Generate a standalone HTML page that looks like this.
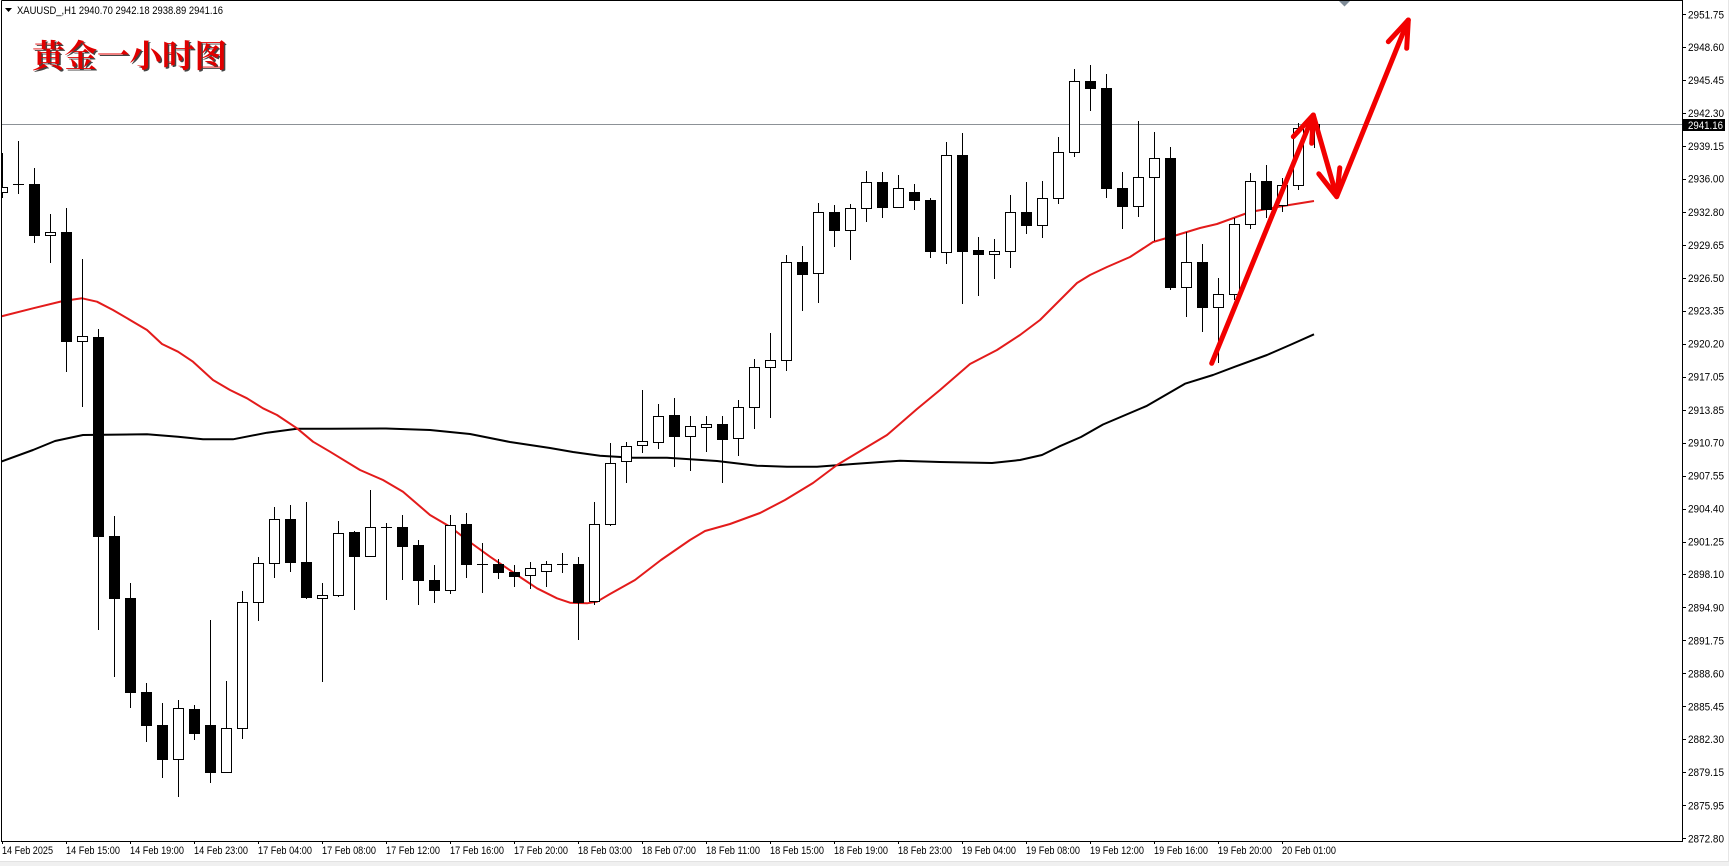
<!DOCTYPE html>
<html><head><meta charset="utf-8"><style>
html,body{margin:0;padding:0;background:#fff;}
svg{display:block;}
.ax{font-family:"Liberation Sans",sans-serif;font-size:11px;fill:#000;}
</style></head><body>
<svg width="1729" height="866" viewBox="0 0 1729 866" xmlns="http://www.w3.org/2000/svg">
<rect x="0" y="0" width="1729" height="866" fill="#fff"/>
<defs><clipPath id="cp"><rect x="2" y="1" width="1680" height="840"/></clipPath></defs>
<g clip-path="url(#cp)">
<!-- MAs -->
<polyline fill="none" stroke="#000" stroke-width="2" stroke-linejoin="round" points="0,462 33,450 55,441 83,435 147,434.3 178,436.7 203,439.3 233,439.3 267,432.7 297,428.7 330,428.7 386,428.5 430,430 470,434 510,442 550,448 573,452 600,455.7 633,457.7 667,457.7 717,461 757,465.7 787,466.7 817,466.7 853,464 900,460.7 940,462 992,463 1020,460 1042,455 1059,446.6 1081,437 1103,424.5 1147,405.8 1185,383.7 1213,375 1235,366.7 1267,355 1290,345 1314,334.3"/>
<polyline fill="none" stroke="#e31b1b" stroke-width="2" stroke-linejoin="round" points="0,316.7 33,308.3 63,301 82,298.3 97,301.7 113,310 133,321.7 147,330 162,344 178,351.7 193,361.7 213,380 230,390 247,398.3 263,408.3 277,415 297,428.3 313,441.7 330,451.7 360,470 383,480 403,491.7 430,515 450,526.7 467,540 490,556.7 517,575 537,588.3 557,598.3 570,602.7 587,603.3 597,601.7 610,594 635,580 661,560 690,540 705,531 730,524 760,513 785,500 813,483 837,465 867,447 887,435 917,409 940,390 970,364 997,350 1020,335 1040,320 1057,303 1077,283 1090,275 1107,267 1130,257 1153,242 1177,235 1200,228 1217,224 1250,212 1283,206 1314,201"/>
<!-- price line -->
<line x1="2" y1="124.5" x2="1682" y2="124.5" stroke="#8c9196" stroke-width="1"/>
<!-- wicks -->
<path fill="none" stroke="#000" stroke-width="1" d="M2.5 153V198M18.5 141V194M34.5 168V243M50.5 214V263M66.5 208V372M82.5 259V407M98.5 329V630M114.5 516V677M130.5 583V708M146.5 683V742M162.5 703V778M178.5 700V797M194.5 705V740M210.5 620V783M226.5 681V773M242.5 591V739M258.5 557V621M274.5 507V578M290.5 505V572M306.5 502V599M322.5 583V682M338.5 521V597M354.5 531V610M370.5 490V557M386.5 523V600M402.5 515V580M418.5 540V605M434.5 565V603M450.5 515V594M466.5 513V578M482.5 543V593M498.5 559V579M514.5 565V587M530.5 562V589M546.5 561V587M562.5 553V573M578.5 557V640M594.5 502V605M610.5 443V526M626.5 442V483M642.5 390V453M658.5 404V449M674.5 398V467M690.5 416V471M706.5 416V452M722.5 416V483M738.5 400V456M754.5 359V429M770.5 333V418M786.5 255V371M802.5 246V311M818.5 203V303M834.5 205V247M850.5 204V260M866.5 171V222M882.5 172V218M898.5 175V208M914.5 184V210M930.5 198V258M946.5 142V264M962.5 133V304M978.5 237V296M994.5 239V279M1010.5 195V268M1026.5 182V234M1042.5 181V238M1058.5 137V204M1074.5 69V157M1090.5 65V111M1106.5 74V198M1122.5 172V229M1138.5 121V217M1154.5 132V241M1170.5 147V290M1186.5 232V317M1202.5 244V332M1218.5 278V363M1234.5 218V300M1250.5 173V229M1266.5 165V218M1282.5 178V212M1298.5 123V190M1314.5 114V148"/>
<!-- doji -->
<path fill="none" stroke="#000" stroke-width="1" d="M13 184.5H24M381 527.5H392M477 564.5H488M557 564.5H568"/>
<!-- black bodies -->
<g fill="#000" stroke="#000" stroke-width="1">
<rect x="29.5" y="184.5" width="10" height="51"/>
<rect x="61.5" y="232.5" width="10" height="109"/>
<rect x="93.5" y="337.5" width="10" height="199"/>
<rect x="109.5" y="536.5" width="10" height="62"/>
<rect x="125.5" y="598.5" width="10" height="94"/>
<rect x="141.5" y="692.5" width="10" height="33"/>
<rect x="157.5" y="725.5" width="10" height="34"/>
<rect x="189.5" y="709.5" width="10" height="24"/>
<rect x="205.5" y="725.5" width="10" height="47"/>
<rect x="285.5" y="519.5" width="10" height="43"/>
<rect x="301.5" y="562.5" width="10" height="35"/>
<rect x="349.5" y="532.5" width="10" height="24"/>
<rect x="397.5" y="527.5" width="10" height="19"/>
<rect x="413.5" y="545.5" width="10" height="35"/>
<rect x="429.5" y="580.5" width="10" height="10"/>
<rect x="461.5" y="524.5" width="10" height="40"/>
<rect x="493.5" y="564.5" width="10" height="8"/>
<rect x="509.5" y="572.5" width="10" height="4"/>
<rect x="573.5" y="564.5" width="10" height="38"/>
<rect x="669.5" y="415.5" width="10" height="21"/>
<rect x="717.5" y="424.5" width="10" height="15"/>
<rect x="797.5" y="262.5" width="10" height="12"/>
<rect x="829.5" y="212.5" width="10" height="18"/>
<rect x="877.5" y="182.5" width="10" height="25"/>
<rect x="909.5" y="192.5" width="10" height="8"/>
<rect x="925.5" y="200.5" width="10" height="51"/>
<rect x="957.5" y="155.5" width="10" height="96"/>
<rect x="973.5" y="250.5" width="10" height="4"/>
<rect x="1021.5" y="212.5" width="10" height="13"/>
<rect x="1085.5" y="81.5" width="10" height="7"/>
<rect x="1101.5" y="88.5" width="10" height="100"/>
<rect x="1117.5" y="188.5" width="10" height="18"/>
<rect x="1165.5" y="158.5" width="10" height="129"/>
<rect x="1197.5" y="262.5" width="10" height="45"/>
<rect x="1261.5" y="181.5" width="10" height="28"/>
</g>
<!-- white bodies -->
<g fill="#fff" stroke="#000" stroke-width="1">
<rect x="-2.5" y="187.5" width="10" height="5"/>
<rect x="45.5" y="232.5" width="10" height="3"/>
<rect x="77.5" y="336.5" width="10" height="5"/>
<rect x="173.5" y="708.5" width="10" height="51"/>
<rect x="221.5" y="728.5" width="10" height="44"/>
<rect x="237.5" y="602.5" width="10" height="126"/>
<rect x="253.5" y="563.5" width="10" height="39"/>
<rect x="269.5" y="519.5" width="10" height="44"/>
<rect x="317.5" y="595.5" width="10" height="3"/>
<rect x="333.5" y="533.5" width="10" height="62"/>
<rect x="365.5" y="527.5" width="10" height="29"/>
<rect x="445.5" y="525.5" width="10" height="65"/>
<rect x="525.5" y="568.5" width="10" height="7"/>
<rect x="541.5" y="564.5" width="10" height="7"/>
<rect x="589.5" y="524.5" width="10" height="77"/>
<rect x="605.5" y="463.5" width="10" height="61"/>
<rect x="621.5" y="446.5" width="10" height="15"/>
<rect x="637.5" y="441.5" width="10" height="4"/>
<rect x="653.5" y="416.5" width="10" height="26"/>
<rect x="685.5" y="426.5" width="10" height="10"/>
<rect x="701.5" y="424.5" width="10" height="3"/>
<rect x="733.5" y="407.5" width="10" height="31"/>
<rect x="749.5" y="367.5" width="10" height="40"/>
<rect x="765.5" y="360.5" width="10" height="7"/>
<rect x="781.5" y="262.5" width="10" height="98"/>
<rect x="813.5" y="212.5" width="10" height="61"/>
<rect x="845.5" y="208.5" width="10" height="22"/>
<rect x="861.5" y="182.5" width="10" height="26"/>
<rect x="893.5" y="188.5" width="10" height="19"/>
<rect x="941.5" y="155.5" width="10" height="97"/>
<rect x="989.5" y="251.5" width="10" height="3"/>
<rect x="1005.5" y="212.5" width="10" height="39"/>
<rect x="1037.5" y="198.5" width="10" height="27"/>
<rect x="1053.5" y="152.5" width="10" height="46"/>
<rect x="1069.5" y="81.5" width="10" height="71"/>
<rect x="1133.5" y="177.5" width="10" height="29"/>
<rect x="1149.5" y="158.5" width="10" height="19"/>
<rect x="1181.5" y="262.5" width="10" height="25"/>
<rect x="1213.5" y="294.5" width="10" height="13"/>
<rect x="1229.5" y="224.5" width="10" height="70"/>
<rect x="1245.5" y="181.5" width="10" height="43"/>
<rect x="1277.5" y="185.5" width="10" height="20"/>
<rect x="1293.5" y="128.5" width="10" height="57"/>
<rect x="1309.5" y="124.5" width="10" height="5"/>
</g>
<!-- arrow -->
<g fill="none" stroke="#f20000" stroke-width="5" stroke-linecap="round" stroke-linejoin="round">
<polyline points="1211.7,363.3 1313.3,115 1336.7,196.7 1408.3,20"/>
<polyline points="1293.3,136.7 1313.3,115 1311.7,143.3"/>
<polyline points="1318.8,173.8 1336.7,196.7 1339.8,167.8"/>
<polyline points="1388.3,41.7 1408.3,20 1406.7,48.3"/>
</g>
</g>
<!-- frame -->
<path d="M1.5 0.5V841.5H1682.5V0.5H1.5" fill="none" stroke="#000" stroke-width="1"/>
<!-- shift marker -->
<polygon points="1339,1 1350,1 1344.5,6.5" fill="#7f8b97"/>
<!-- header -->
<polygon points="5,8 12,8 8.5,12" fill="#000"/>
<text class="ax" x="17" y="14" textLength="206" lengthAdjust="spacingAndGlyphs">XAUUSD_,H1  2940.70 2942.18 2938.89 2941.16</text>
<!-- title -->
<text x="33.5" y="68.5" font-family="'Liberation Serif','Noto Serif CJK SC',serif" font-weight="bold" font-size="32" fill="#444" textLength="195" lengthAdjust="spacingAndGlyphs">黄金一小时图</text>
<text x="32" y="67" font-family="'Liberation Serif','Noto Serif CJK SC',serif" font-weight="bold" font-size="32" fill="#e00000" textLength="195" lengthAdjust="spacingAndGlyphs">黄金一小时图</text>
<!-- price axis ticks -->
<path fill="none" stroke="#000" stroke-width="1" d="M1682 14.5h4M1682 47.5h4M1682 80.5h4M1682 113.5h4M1682 146.5h4M1682 179.5h4M1682 212.5h4M1682 245.5h4M1682 278.5h4M1682 311.5h4M1682 344.5h4M1682 377.5h4M1682 410.5h4M1682 443.5h4M1682 476.5h4M1682 509.5h4M1682 542.5h4M1682 574.5h4M1682 607.5h4M1682 640.5h4M1682 673.5h4M1682 706.5h4M1682 739.5h4M1682 772.5h4M1682 805.5h4M1682 838.5h4"/>
<g class="ax">
<text x="1688" y="18.3" textLength="36" lengthAdjust="spacingAndGlyphs">2951.75</text>
<text x="1688" y="51.2" textLength="36" lengthAdjust="spacingAndGlyphs">2948.60</text>
<text x="1688" y="84.1" textLength="36" lengthAdjust="spacingAndGlyphs">2945.45</text>
<text x="1688" y="116.9" textLength="36" lengthAdjust="spacingAndGlyphs">2942.30</text>
<text x="1688" y="149.8" textLength="36" lengthAdjust="spacingAndGlyphs">2939.15</text>
<text x="1688" y="182.7" textLength="36" lengthAdjust="spacingAndGlyphs">2936.00</text>
<text x="1688" y="216.1" textLength="36" lengthAdjust="spacingAndGlyphs">2932.80</text>
<text x="1688" y="249.0" textLength="36" lengthAdjust="spacingAndGlyphs">2929.65</text>
<text x="1688" y="281.8" textLength="36" lengthAdjust="spacingAndGlyphs">2926.50</text>
<text x="1688" y="314.7" textLength="36" lengthAdjust="spacingAndGlyphs">2923.35</text>
<text x="1688" y="347.6" textLength="36" lengthAdjust="spacingAndGlyphs">2920.20</text>
<text x="1688" y="380.5" textLength="36" lengthAdjust="spacingAndGlyphs">2917.05</text>
<text x="1688" y="413.9" textLength="36" lengthAdjust="spacingAndGlyphs">2913.85</text>
<text x="1688" y="446.7" textLength="36" lengthAdjust="spacingAndGlyphs">2910.70</text>
<text x="1688" y="479.6" textLength="36" lengthAdjust="spacingAndGlyphs">2907.55</text>
<text x="1688" y="512.5" textLength="36" lengthAdjust="spacingAndGlyphs">2904.40</text>
<text x="1688" y="545.4" textLength="36" lengthAdjust="spacingAndGlyphs">2901.25</text>
<text x="1688" y="578.2" textLength="36" lengthAdjust="spacingAndGlyphs">2898.10</text>
<text x="1688" y="611.6" textLength="36" lengthAdjust="spacingAndGlyphs">2894.90</text>
<text x="1688" y="644.5" textLength="36" lengthAdjust="spacingAndGlyphs">2891.75</text>
<text x="1688" y="677.4" textLength="36" lengthAdjust="spacingAndGlyphs">2888.60</text>
<text x="1688" y="710.3" textLength="36" lengthAdjust="spacingAndGlyphs">2885.45</text>
<text x="1688" y="743.1" textLength="36" lengthAdjust="spacingAndGlyphs">2882.30</text>
<text x="1688" y="776.0" textLength="36" lengthAdjust="spacingAndGlyphs">2879.15</text>
<text x="1688" y="809.4" textLength="36" lengthAdjust="spacingAndGlyphs">2875.95</text>
<text x="1688" y="842.3" textLength="36" lengthAdjust="spacingAndGlyphs">2872.80</text>
</g>
<!-- current price box -->
<rect x="1683" y="119" width="42" height="12" fill="#000"/>
<text class="ax" x="1688" y="129" fill="#fff" style="fill:#fff" textLength="35" lengthAdjust="spacingAndGlyphs">2941.16</text>
<!-- time axis ticks -->
<path fill="none" stroke="#000" stroke-width="1" d="M2.5 841v3M66.5 841v3M130.5 841v3M194.5 841v3M258.5 841v3M322.5 841v3M386.5 841v3M450.5 841v3M514.5 841v3M578.5 841v3M642.5 841v3M706.5 841v3M770.5 841v3M834.5 841v3M898.5 841v3M962.5 841v3M1026.5 841v3M1090.5 841v3M1154.5 841v3M1218.5 841v3M1282.5 841v3"/>
<g class="ax">
<text x="2" y="854" textLength="51" lengthAdjust="spacingAndGlyphs">14 Feb 2025</text>
<text x="66" y="854" textLength="54" lengthAdjust="spacingAndGlyphs">14 Feb 15:00</text>
<text x="130" y="854" textLength="54" lengthAdjust="spacingAndGlyphs">14 Feb 19:00</text>
<text x="194" y="854" textLength="54" lengthAdjust="spacingAndGlyphs">14 Feb 23:00</text>
<text x="258" y="854" textLength="54" lengthAdjust="spacingAndGlyphs">17 Feb 04:00</text>
<text x="322" y="854" textLength="54" lengthAdjust="spacingAndGlyphs">17 Feb 08:00</text>
<text x="386" y="854" textLength="54" lengthAdjust="spacingAndGlyphs">17 Feb 12:00</text>
<text x="450" y="854" textLength="54" lengthAdjust="spacingAndGlyphs">17 Feb 16:00</text>
<text x="514" y="854" textLength="54" lengthAdjust="spacingAndGlyphs">17 Feb 20:00</text>
<text x="578" y="854" textLength="54" lengthAdjust="spacingAndGlyphs">18 Feb 03:00</text>
<text x="642" y="854" textLength="54" lengthAdjust="spacingAndGlyphs">18 Feb 07:00</text>
<text x="706" y="854" textLength="54" lengthAdjust="spacingAndGlyphs">18 Feb 11:00</text>
<text x="770" y="854" textLength="54" lengthAdjust="spacingAndGlyphs">18 Feb 15:00</text>
<text x="834" y="854" textLength="54" lengthAdjust="spacingAndGlyphs">18 Feb 19:00</text>
<text x="898" y="854" textLength="54" lengthAdjust="spacingAndGlyphs">18 Feb 23:00</text>
<text x="962" y="854" textLength="54" lengthAdjust="spacingAndGlyphs">19 Feb 04:00</text>
<text x="1026" y="854" textLength="54" lengthAdjust="spacingAndGlyphs">19 Feb 08:00</text>
<text x="1090" y="854" textLength="54" lengthAdjust="spacingAndGlyphs">19 Feb 12:00</text>
<text x="1154" y="854" textLength="54" lengthAdjust="spacingAndGlyphs">19 Feb 16:00</text>
<text x="1218" y="854" textLength="54" lengthAdjust="spacingAndGlyphs">19 Feb 20:00</text>
<text x="1282" y="854" textLength="54" lengthAdjust="spacingAndGlyphs">20 Feb 01:00</text>
</g>
<!-- bottom strip -->
<rect x="0" y="861" width="1729" height="5" fill="#f0f0f0"/>
<line x1="0" y1="861.5" x2="1729" y2="861.5" stroke="#e2e2e2"/>
<line x1="1728.5" y1="0" x2="1728.5" y2="861" stroke="#e6e6e6"/>
</svg>
</body></html>
